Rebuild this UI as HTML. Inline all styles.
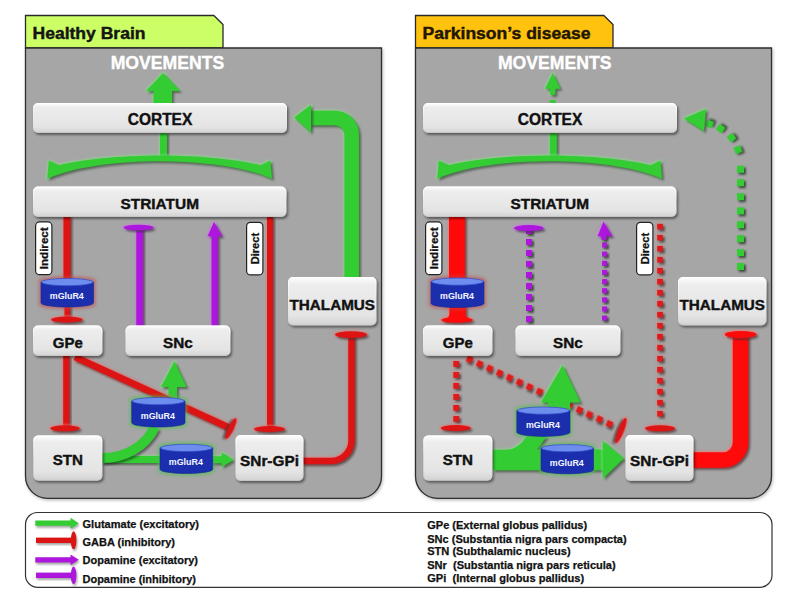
<!DOCTYPE html>
<html><head><meta charset="utf-8"><style>
html,body{margin:0;padding:0;background:#fff;width:799px;height:599px;overflow:hidden}
svg{display:block}
.b{font-family:"Liberation Sans",sans-serif;font-weight:bold;fill:#111}
.s{stroke:#111;stroke-width:0.4}
</style></head><body>
<svg width="799" height="599" viewBox="0 0 799 599">
<defs>
<linearGradient id="bx" x1="0" y1="0" x2="0" y2="1">
<stop offset="0" stop-color="#ffffff"/><stop offset="0.15" stop-color="#ededed"/><stop offset="0.8" stop-color="#e4e4e4"/><stop offset="1" stop-color="#d2d2d2"/></linearGradient>
<linearGradient id="bxs" x1="0" y1="0" x2="0" y2="1">
<stop offset="0" stop-color="#ffffff" stop-opacity="0.9"/><stop offset="0.5" stop-color="#ffffff" stop-opacity="0"/><stop offset="1" stop-color="#bdbdbd" stop-opacity="0.6"/></linearGradient>
<linearGradient id="cyb" x1="0" y1="0" x2="1" y2="0">
<stop offset="0" stop-color="#14299a"/><stop offset="0.5" stop-color="#1c35ad"/><stop offset="1" stop-color="#14299a"/></linearGradient>
<filter color-interpolation-filters="sRGB" id="bsh" x="-30%" y="-30%" width="160%" height="160%"><feDropShadow dx="1.5" dy="2" stdDeviation="1.3" flood-color="#000" flood-opacity="0.45"/></filter>
<filter color-interpolation-filters="sRGB" id="sh" x="-40%" y="-40%" width="180%" height="180%"><feMorphology in="SourceGraphic" operator="dilate" radius="1.2" result="dl"/><feGaussianBlur in="dl" stdDeviation="0.9" result="gl"/><feColorMatrix in="gl" type="matrix" values="0.6 0 0 0 0.4  0 0.6 0 0 0.4  0 0 0.6 0 0.4  0 0 0 0.7 0" result="gl2"/><feOffset in="SourceAlpha" dx="1.5" dy="2" result="o"/><feGaussianBlur in="o" stdDeviation="1.3" result="ob"/><feFlood flood-color="#000" flood-opacity="0.45"/><feComposite in2="ob" operator="in" result="s"/><feMerge><feMergeNode in="gl2"/><feMergeNode in="s"/><feMergeNode in="SourceGraphic"/></feMerge></filter>
<filter color-interpolation-filters="sRGB" id="dshR" x="-80%" y="-80%" width="260%" height="260%"><feMorphology in="SourceAlpha" operator="dilate" radius="0.8" result="d"/><feGaussianBlur in="d" stdDeviation="1" result="b"/><feFlood flood-color="#ff6060" flood-opacity="0.35"/><feComposite in2="b" operator="in" result="g"/><feOffset in="SourceAlpha" dx="1.6" dy="1.8" result="o"/><feGaussianBlur in="o" stdDeviation="0.9" result="ob"/><feFlood flood-color="#000" flood-opacity="0.5"/><feComposite in2="ob" operator="in" result="s"/><feMerge><feMergeNode in="g"/><feMergeNode in="s"/><feMergeNode in="SourceGraphic"/></feMerge></filter>
<filter color-interpolation-filters="sRGB" id="dsh" x="-50%" y="-50%" width="200%" height="200%"><feDropShadow dx="1.8" dy="1.8" stdDeviation="0.8" flood-color="#0a1a0a" flood-opacity="0.72"/></filter>
<filter color-interpolation-filters="sRGB" id="lsh" x="-30%" y="-50%" width="160%" height="200%"><feDropShadow dx="1" dy="2" stdDeviation="1.2" flood-color="#000" flood-opacity="0.35"/></filter>
<filter color-interpolation-filters="sRGB" id="psh" x="-5%" y="-5%" width="110%" height="110%"><feDropShadow dx="1" dy="1.5" stdDeviation="1.5" flood-color="#000" flood-opacity="0.25"/></filter>
<filter color-interpolation-filters="sRGB" id="glR" x="-30%" y="-40%" width="160%" height="180%"><feMorphology in="SourceAlpha" operator="dilate" radius="2" result="d"/><feGaussianBlur in="d" stdDeviation="1.6" result="b"/><feFlood flood-color="#c04848" flood-opacity="0.55"/><feComposite in2="b" operator="in" result="g"/><feMerge><feMergeNode in="g"/><feMergeNode in="SourceGraphic"/></feMerge></filter>
<filter color-interpolation-filters="sRGB" id="glG" x="-30%" y="-40%" width="160%" height="180%"><feMorphology in="SourceAlpha" operator="dilate" radius="2" result="d"/><feGaussianBlur in="d" stdDeviation="1.6" result="b"/><feFlood flood-color="#48c048" flood-opacity="0.55"/><feComposite in2="b" operator="in" result="g"/><feMerge><feMergeNode in="g"/><feMergeNode in="SourceGraphic"/></feMerge></filter>
</defs>
<path d="M25.5,15.5 H213.8 L223,24.6 V48 H25.5 Z" fill="#ccff66" stroke="#2a2a2a" stroke-width="1.3"/><path d="M25.5,48 H381.5 V476.3 A22,22 0 0 1 359.5,498.3 H47.5 A22,22 0 0 1 25.5,476.3 Z" fill="#a6a6a6" stroke="#2e2e2e" stroke-width="1.3" filter="url(#psh)"/><text x="32.5" y="39" font-size="16.8" class="b" style="fill:#151515;stroke:#151515;stroke-width:0.45" textLength="113" lengthAdjust="spacingAndGlyphs">Healthy Brain</text><path d="M415.5,15.5 H603.8 L613,24.6 V48 H415.5 Z" fill="#ffc20e" stroke="#2a2a2a" stroke-width="1.3"/><path d="M415.5,48 H771.5 V476.3 A22,22 0 0 1 749.5,498.3 H437.5 A22,22 0 0 1 415.5,476.3 Z" fill="#a6a6a6" stroke="#2e2e2e" stroke-width="1.3" filter="url(#psh)"/><text x="422.5" y="39" font-size="16.8" class="b" style="fill:#1f1604;stroke:#1f1604;stroke-width:0.45" textLength="168" lengthAdjust="spacingAndGlyphs">Parkinson’s disease</text><text x="167.4" y="68.8" font-size="17.6" text-anchor="middle" class="b" style="fill:#fff;stroke:#fff;stroke-width:0.35" textLength="113.5" lengthAdjust="spacingAndGlyphs">MOVEMENTS</text><text x="554.7" y="68.8" font-size="17.6" text-anchor="middle" class="b" style="fill:#fff;stroke:#fff;stroke-width:0.35" textLength="113.5" lengthAdjust="spacingAndGlyphs">MOVEMENTS</text><g><path d="M163,73 L180,91 H172 V104 H153.5 V91 H146 Z" fill="#33cc33" filter="url(#sh)"/><rect x="160" y="132" width="7" height="26" fill="#33cc33" filter="url(#sh)"/><path d="M58.8,165.3 C80.0,159.5 120.0,155.4 159.6,155.4 C199.2,155.4 239.2,159.5 260.4,165.3 L270.4,160.6 L272.0,178.8 C244.2,166 199.2,161.2 159.6,161.2 C120.0,161.2 75.0,166 47.2,178.8 L48.8,160.6 Z" fill="#33cc33" filter="url(#sh)"/><path d="M351.7,278 V135 A17,17 0 0 0 334.7,118 H309" fill="none" stroke="#33cc33" stroke-width="14.5" filter="url(#sh)"/><path d="M294.3,117.5 L311,104.7 V132.6 Z" fill="#33cc33" filter="url(#sh)"/><rect x="63.5" y="216" width="7" height="64" fill="#dc1414" filter="url(#sh)"/><rect x="64.5" y="305" width="5.5" height="14" fill="#dc1414" filter="url(#sh)"/><ellipse cx="66.8" cy="319.5" rx="15.7" ry="3" fill="#dc1414" filter="url(#sh)"/><rect x="136.3" y="227" width="6.7" height="99" fill="#ad16dc" filter="url(#sh)"/><ellipse cx="138.5" cy="227.5" rx="15" ry="2.8" fill="#ad16dc" filter="url(#sh)"/><path d="M214,222 L222.3,236.3 H217.8 V326 H211.5 V236.3 H207.5 Z" fill="#ad16dc" filter="url(#sh)"/><rect x="267" y="216" width="6" height="213" fill="#dc1414" filter="url(#sh)"/><ellipse cx="269.5" cy="429" rx="15.5" ry="3" fill="#dc1414" filter="url(#sh)"/><path d="M302,461 H331 A20.5,20.5 0 0 0 351.5,440.5 V335" fill="none" stroke="#dc1414" stroke-width="6.5" filter="url(#sh)"/><ellipse cx="351" cy="334.6" rx="16" ry="3.4" fill="#dc1414" filter="url(#sh)"/><rect x="63.2" y="355" width="6.2" height="73" fill="#dc1414" filter="url(#sh)"/><ellipse cx="65" cy="428.3" rx="14.7" ry="3" fill="#dc1414" filter="url(#sh)"/><path d="M174.5,361.3 L186.6,387 H177 V400 H168.5 V387 H161 Z" fill="#33cc33" filter="url(#sh)"/><line x1="75" y1="357" x2="231" y2="428.5" stroke="#dc1414" stroke-width="6.5" filter="url(#sh)"/><ellipse cx="231" cy="428.5" rx="11.5" ry="2.8" transform="rotate(116 231 428.5)" fill="#dc1414" filter="url(#sh)"/><rect x="102" y="456" width="60" height="7" fill="#33cc33" filter="url(#sh)"/><path d="M102,458 C125,458 145,447 155,427" fill="none" stroke="#33cc33" stroke-width="10" filter="url(#bsh)"/><path d="M233.5,460 L221.7,452.5 V456.3 H210 V463.3 H221.7 V467 Z" fill="#33cc33" filter="url(#sh)"/></g><g><path d="M552.7,73.3 L560.4,88.7 H555.4 V94.7 H550 V88.7 H545 Z" fill="#33cc33" filter="url(#sh)"/><rect x="549.8" y="100" width="6" height="4" fill="#33cc33"/><rect x="549.8" y="132" width="7" height="26" fill="#33cc33" filter="url(#sh)"/><path d="M448.8,165.3 C470.0,159.5 510.0,155.4 549.6,155.4 C589.2,155.4 629.2,159.5 650.4,165.3 L660.4,160.6 L662.0,178.8 C634.2,166 589.2,161.2 549.6,161.2 C510.0,161.2 465.0,166 437.2,178.8 L438.8,160.6 Z" fill="#33cc33" filter="url(#sh)"/><rect x="449" y="216" width="16" height="64" fill="#ff0a0a" filter="url(#sh)"/><g filter="url(#sh)"><path d="M449.4,305 V314 Q449.4,318 444,319 H470 Q465.7,318 465.7,314 V305 Z" fill="#ff0a0a"/><ellipse cx="457" cy="320" rx="15.7" ry="2.8" fill="#ff0a0a"/></g><rect x="526" y="228.0" width="6" height="6" fill="#ad16dc" filter="url(#dsh)"/><rect x="526" y="239.0" width="6" height="6" fill="#ad16dc" filter="url(#dsh)"/><rect x="526" y="250.0" width="6" height="6" fill="#ad16dc" filter="url(#dsh)"/><rect x="526" y="261.0" width="6" height="6" fill="#ad16dc" filter="url(#dsh)"/><rect x="526" y="272.0" width="6" height="6" fill="#ad16dc" filter="url(#dsh)"/><rect x="526" y="283.0" width="6" height="6" fill="#ad16dc" filter="url(#dsh)"/><rect x="526" y="294.0" width="6" height="6" fill="#ad16dc" filter="url(#dsh)"/><rect x="526" y="305.0" width="6" height="6" fill="#ad16dc" filter="url(#dsh)"/><rect x="526" y="316.0" width="6" height="6" fill="#ad16dc" filter="url(#dsh)"/><ellipse cx="528.75" cy="228" rx="14.75" ry="3" fill="#ad16dc" filter="url(#sh)"/><rect x="602.1" y="242.5" width="5" height="5" fill="#ad16dc" filter="url(#dsh)"/><rect x="602.1" y="251.6" width="5" height="5" fill="#ad16dc" filter="url(#dsh)"/><rect x="602.1" y="260.8" width="5" height="5" fill="#ad16dc" filter="url(#dsh)"/><rect x="602.1" y="269.9" width="5" height="5" fill="#ad16dc" filter="url(#dsh)"/><rect x="602.1" y="279.1" width="5" height="5" fill="#ad16dc" filter="url(#dsh)"/><rect x="602.1" y="288.2" width="5" height="5" fill="#ad16dc" filter="url(#dsh)"/><rect x="602.1" y="297.3" width="5" height="5" fill="#ad16dc" filter="url(#dsh)"/><rect x="602.1" y="306.5" width="5" height="5" fill="#ad16dc" filter="url(#dsh)"/><rect x="602.1" y="315.6" width="5" height="5" fill="#ad16dc" filter="url(#dsh)"/><path d="M603.5,221.7 L612.2,236.3 H597.6 Z" fill="#ad16dc" filter="url(#sh)"/><rect x="601.5" y="235" width="5" height="5" fill="#ad16dc" filter="url(#dsh)"/><rect x="657.2" y="223.9" width="5.6" height="5.6" fill="#de1a1a" filter="url(#dshR)"/><rect x="657.2" y="234.9" width="5.6" height="5.6" fill="#de1a1a" filter="url(#dshR)"/><rect x="657.2" y="245.9" width="5.6" height="5.6" fill="#de1a1a" filter="url(#dshR)"/><rect x="657.2" y="256.9" width="5.6" height="5.6" fill="#de1a1a" filter="url(#dshR)"/><rect x="657.2" y="267.9" width="5.6" height="5.6" fill="#de1a1a" filter="url(#dshR)"/><rect x="657.2" y="278.9" width="5.6" height="5.6" fill="#de1a1a" filter="url(#dshR)"/><rect x="657.2" y="289.9" width="5.6" height="5.6" fill="#de1a1a" filter="url(#dshR)"/><rect x="657.2" y="300.9" width="5.6" height="5.6" fill="#de1a1a" filter="url(#dshR)"/><rect x="657.2" y="311.9" width="5.6" height="5.6" fill="#de1a1a" filter="url(#dshR)"/><rect x="657.2" y="322.9" width="5.6" height="5.6" fill="#de1a1a" filter="url(#dshR)"/><rect x="657.2" y="333.9" width="5.6" height="5.6" fill="#de1a1a" filter="url(#dshR)"/><rect x="657.2" y="344.9" width="5.6" height="5.6" fill="#de1a1a" filter="url(#dshR)"/><rect x="657.2" y="355.9" width="5.6" height="5.6" fill="#de1a1a" filter="url(#dshR)"/><rect x="657.2" y="366.9" width="5.6" height="5.6" fill="#de1a1a" filter="url(#dshR)"/><rect x="657.2" y="377.9" width="5.6" height="5.6" fill="#de1a1a" filter="url(#dshR)"/><rect x="657.2" y="388.9" width="5.6" height="5.6" fill="#de1a1a" filter="url(#dshR)"/><rect x="657.2" y="399.9" width="5.6" height="5.6" fill="#de1a1a" filter="url(#dshR)"/><rect x="657.2" y="410.9" width="5.6" height="5.6" fill="#de1a1a" filter="url(#dshR)"/><ellipse cx="660" cy="428.3" rx="15" ry="3" fill="#dc1414" filter="url(#sh)"/><rect x="737.0" y="263.0" width="7" height="7" fill="#33cc33" transform="rotate(0 740.5 266.5)" filter="url(#dsh)"/><rect x="737.0" y="249.1" width="7" height="7" fill="#33cc33" transform="rotate(0 740.5 252.6)" filter="url(#dsh)"/><rect x="737.0" y="235.2" width="7" height="7" fill="#33cc33" transform="rotate(0 740.5 238.7)" filter="url(#dsh)"/><rect x="737.0" y="221.2" width="7" height="7" fill="#33cc33" transform="rotate(0 740.5 224.7)" filter="url(#dsh)"/><rect x="737.0" y="207.4" width="7" height="7" fill="#33cc33" transform="rotate(0 740.5 210.9)" filter="url(#dsh)"/><rect x="737.0" y="193.2" width="7" height="7" fill="#33cc33" transform="rotate(0 740.5 196.7)" filter="url(#dsh)"/><rect x="737.0" y="179.2" width="7" height="7" fill="#33cc33" transform="rotate(0 740.5 182.7)" filter="url(#dsh)"/><rect x="737.0" y="165.8" width="7" height="7" fill="#33cc33" transform="rotate(0 740.5 169.3)" filter="url(#dsh)"/><rect x="734.5" y="146.2" width="7" height="7" fill="#33cc33" transform="rotate(-20 738 149.7)" filter="url(#dsh)"/><rect x="728.1" y="134.2" width="7" height="7" fill="#33cc33" transform="rotate(-38 731.6 137.7)" filter="url(#dsh)"/><rect x="717.1" y="125.1" width="7" height="7" fill="#33cc33" transform="rotate(-55 720.6 128.6)" filter="url(#dsh)"/><rect x="706.1" y="120.5" width="7" height="7" fill="#33cc33" transform="rotate(-70 709.6 124)" filter="url(#dsh)"/><path d="M683.9,118.5 L706,109 L704,131 Z" fill="#33cc33" filter="url(#sh)"/><path d="M692,460 H723 A17.5,17.5 0 0 0 740.5,442.5 V335" fill="none" stroke="#ff0a0a" stroke-width="15.5" filter="url(#sh)"/><ellipse cx="740.6" cy="334.5" rx="15.8" ry="3.4" fill="#ff0a0a" filter="url(#sh)"/><rect x="453.3" y="361.0" width="5.8" height="5.8" fill="#de1a1a" filter="url(#dshR)"/><rect x="453.3" y="372.0" width="5.8" height="5.8" fill="#de1a1a" filter="url(#dshR)"/><rect x="453.3" y="383.0" width="5.8" height="5.8" fill="#de1a1a" filter="url(#dshR)"/><rect x="453.3" y="394.0" width="5.8" height="5.8" fill="#de1a1a" filter="url(#dshR)"/><rect x="453.3" y="405.0" width="5.8" height="5.8" fill="#de1a1a" filter="url(#dshR)"/><rect x="453.3" y="416.0" width="5.8" height="5.8" fill="#de1a1a" filter="url(#dshR)"/><ellipse cx="455.75" cy="428" rx="15" ry="3" fill="#dc1414" filter="url(#sh)"/><rect x="466.7" y="356.3" width="6" height="6" fill="#de1a1a" transform="rotate(24.8 469.7 359.3)" filter="url(#dshR)"/><rect x="476.7" y="360.9" width="6" height="6" fill="#de1a1a" transform="rotate(24.8 479.7 363.9)" filter="url(#dshR)"/><rect x="486.7" y="365.5" width="6" height="6" fill="#de1a1a" transform="rotate(24.8 489.7 368.5)" filter="url(#dshR)"/><rect x="496.7" y="370.1" width="6" height="6" fill="#de1a1a" transform="rotate(24.8 499.7 373.1)" filter="url(#dshR)"/><rect x="506.7" y="374.7" width="6" height="6" fill="#de1a1a" transform="rotate(24.8 509.7 377.7)" filter="url(#dshR)"/><rect x="516.6" y="379.3" width="6" height="6" fill="#de1a1a" transform="rotate(24.8 519.6 382.3)" filter="url(#dshR)"/><rect x="526.6" y="383.9" width="6" height="6" fill="#de1a1a" transform="rotate(24.8 529.6 386.9)" filter="url(#dshR)"/><rect x="536.6" y="388.6" width="6" height="6" fill="#de1a1a" transform="rotate(24.8 539.6 391.6)" filter="url(#dshR)"/><rect x="546.6" y="393.2" width="6" height="6" fill="#de1a1a" transform="rotate(24.8 549.6 396.2)" filter="url(#dshR)"/><rect x="556.6" y="397.8" width="6" height="6" fill="#de1a1a" transform="rotate(24.8 559.6 400.8)" filter="url(#dshR)"/><rect x="566.6" y="402.4" width="6" height="6" fill="#de1a1a" transform="rotate(24.8 569.6 405.4)" filter="url(#dshR)"/><rect x="576.6" y="407.0" width="6" height="6" fill="#de1a1a" transform="rotate(24.8 579.6 410.0)" filter="url(#dshR)"/><rect x="586.5" y="411.6" width="6" height="6" fill="#de1a1a" transform="rotate(24.8 589.5 414.6)" filter="url(#dshR)"/><rect x="596.5" y="416.2" width="6" height="6" fill="#de1a1a" transform="rotate(24.8 599.5 419.2)" filter="url(#dshR)"/><rect x="606.5" y="420.9" width="6" height="6" fill="#de1a1a" transform="rotate(24.8 609.5 423.9)" filter="url(#dshR)"/><ellipse cx="621" cy="430.5" rx="13.5" ry="3" transform="rotate(112 621 430.5)" fill="#dc1414" filter="url(#sh)"/><path d="M493,449.7 H507 Q518,449.7 527,436 H547 L537,449.5 H605 V470.3 H493 Z" fill="#33cc33" filter="url(#sh)"/><path d="M562.6,365.2 L580.6,402.6 H540.9 Z" fill="#33cc33" filter="url(#sh)"/><rect x="548" y="400" width="22" height="10" fill="#33cc33"/><path d="M623.8,458.6 L602.8,478.5 V441 Z" fill="#33cc33" filter="url(#sh)"/></g><g filter="url(#glR)"><path d="M41,282.1 V302.8 A26.25,4.2 0 0 0 93.5,302.8 V282.1 Z" fill="#1b2fae" stroke="#142596" stroke-width="0.6"/><ellipse cx="67.25" cy="282.1" rx="25.75" ry="3.6" fill="#6d8def" stroke="#2f4bc4" stroke-width="0.7"/></g><text x="66.75" y="298.7" font-size="8.8" text-anchor="middle" class="b" style="fill:#f4f6ff" textLength="34" lengthAdjust="spacingAndGlyphs">mGluR4</text><g filter="url(#glG)"><path d="M131.7,401.1 V422.8 A26.650000000000006,4.2 0 0 0 185,422.8 V401.1 Z" fill="#1b2fae" stroke="#142596" stroke-width="0.6"/><ellipse cx="158.35" cy="401.1" rx="26.150000000000006" ry="3.6" fill="#6d8def" stroke="#2f4bc4" stroke-width="0.7"/></g><text x="157.85" y="418.7" font-size="8.8" text-anchor="middle" class="b" style="fill:#f4f6ff" textLength="34" lengthAdjust="spacingAndGlyphs">mGluR4</text><g filter="url(#glG)"><path d="M160,447.90000000000003 V469.3 A26.349999999999994,4.2 0 0 0 212.7,469.3 V447.90000000000003 Z" fill="#1b2fae" stroke="#142596" stroke-width="0.6"/><ellipse cx="186.35" cy="447.90000000000003" rx="25.849999999999994" ry="3.6" fill="#6d8def" stroke="#2f4bc4" stroke-width="0.7"/></g><text x="185.85" y="465.2" font-size="8.8" text-anchor="middle" class="b" style="fill:#f4f6ff" textLength="34" lengthAdjust="spacingAndGlyphs">mGluR4</text><g filter="url(#glR)"><path d="M431,281.6 V303.3 A26.5,4.2 0 0 0 484,303.3 V281.6 Z" fill="#1b2fae" stroke="#142596" stroke-width="0.6"/><ellipse cx="457.5" cy="281.6" rx="26.0" ry="3.6" fill="#6d8def" stroke="#2f4bc4" stroke-width="0.7"/></g><text x="457.0" y="299.2" font-size="8.8" text-anchor="middle" class="b" style="fill:#f4f6ff" textLength="34" lengthAdjust="spacingAndGlyphs">mGluR4</text><g filter="url(#glG)"><path d="M516.8,410.6 V432.2 A26.600000000000023,4.2 0 0 0 570,432.2 V410.6 Z" fill="#1b2fae" stroke="#142596" stroke-width="0.6"/><ellipse cx="543.4" cy="410.6" rx="26.100000000000023" ry="3.6" fill="#6d8def" stroke="#2f4bc4" stroke-width="0.7"/></g><text x="542.9" y="428.09999999999997" font-size="8.8" text-anchor="middle" class="b" style="fill:#f4f6ff" textLength="34" lengthAdjust="spacingAndGlyphs">mGluR4</text><g filter="url(#glG)"><path d="M541,448.20000000000005 V469.6 A26.25,4.2 0 0 0 593.5,469.6 V448.20000000000005 Z" fill="#1b2fae" stroke="#142596" stroke-width="0.6"/><ellipse cx="567.25" cy="448.20000000000005" rx="25.75" ry="3.6" fill="#6d8def" stroke="#2f4bc4" stroke-width="0.7"/></g><text x="566.75" y="465.5" font-size="8.8" text-anchor="middle" class="b" style="fill:#f4f6ff" textLength="34" lengthAdjust="spacingAndGlyphs">mGluR4</text><rect x="33" y="103" width="254.00" height="30.00" rx="5" fill="url(#bx)" filter="url(#bsh)"/><rect x="33.5" y="103.5" width="253.00" height="29.00" rx="4.5" fill="none" stroke="url(#bxs)" stroke-width="1"/><text x="160.00" y="125.00" font-size="16" text-anchor="middle" class="b s" textLength="64.5" lengthAdjust="spacingAndGlyphs">CORTEX</text><rect x="33" y="186.5" width="253.50" height="30.50" rx="5" fill="url(#bx)" filter="url(#bsh)"/><rect x="33.5" y="187.0" width="252.50" height="29.50" rx="4.5" fill="none" stroke="url(#bxs)" stroke-width="1"/><text x="159.75" y="208.80" font-size="15.5" text-anchor="middle" class="b s" textLength="78.5" lengthAdjust="spacingAndGlyphs">STRIATUM</text><rect x="33" y="325.5" width="69.50" height="30.50" rx="5" fill="url(#bx)" filter="url(#bsh)"/><rect x="33.5" y="326.0" width="68.50" height="29.50" rx="4.5" fill="none" stroke="url(#bxs)" stroke-width="1"/><text x="67.75" y="347.50" font-size="15.3" text-anchor="middle" class="b s" textLength="30" lengthAdjust="spacingAndGlyphs">GPe</text><rect x="125.5" y="325.5" width="105.00" height="30.50" rx="5" fill="url(#bx)" filter="url(#bsh)"/><rect x="126.0" y="326.0" width="104.00" height="29.50" rx="4.5" fill="none" stroke="url(#bxs)" stroke-width="1"/><text x="178.00" y="347.50" font-size="15.3" text-anchor="middle" class="b s" textLength="29.8" lengthAdjust="spacingAndGlyphs">SNc</text><rect x="288" y="277" width="88.50" height="48.50" rx="5" fill="url(#bx)" filter="url(#bsh)"/><rect x="288.5" y="277.5" width="87.50" height="47.50" rx="4.5" fill="none" stroke="url(#bxs)" stroke-width="1"/><text x="332.25" y="309.80" font-size="15" text-anchor="middle" class="b s" textLength="85.5" lengthAdjust="spacingAndGlyphs">THALAMUS</text><rect x="33.3" y="435.4" width="69.10" height="45.30" rx="5" fill="url(#bx)" filter="url(#bsh)"/><rect x="33.8" y="435.9" width="68.10" height="44.30" rx="4.5" fill="none" stroke="url(#bxs)" stroke-width="1"/><text x="67.85" y="464.60" font-size="15" text-anchor="middle" class="b s" textLength="30.3" lengthAdjust="spacingAndGlyphs">STN</text><rect x="235.5" y="435" width="68.00" height="46.00" rx="5" fill="url(#bx)" filter="url(#bsh)"/><rect x="236.0" y="435.5" width="67.00" height="45.00" rx="4.5" fill="none" stroke="url(#bxs)" stroke-width="1"/><text x="269.50" y="465.70" font-size="15" text-anchor="middle" class="b s" textLength="58.8" lengthAdjust="spacingAndGlyphs">SNr-GPi</text><rect x="35.6" y="221.9" width="16.3" height="52.8" rx="4" fill="#fff" stroke="#222" stroke-width="1.2"/><text x="0" y="0" transform="translate(47.75,248.3) rotate(-90)" font-size="11.5" text-anchor="middle" class="b s" style="stroke-width:0.3" textLength="42" lengthAdjust="spacingAndGlyphs">Indirect</text><rect x="246.6" y="222.29999999999998" width="16.3" height="52.60000000000001" rx="4" fill="#fff" stroke="#222" stroke-width="1.2"/><text x="0" y="0" transform="translate(258.75,248.6) rotate(-90)" font-size="11.5" text-anchor="middle" class="b s" style="stroke-width:0.3" textLength="31.5" lengthAdjust="spacingAndGlyphs">Direct</text><rect x="423" y="103" width="254.00" height="30.00" rx="5" fill="url(#bx)" filter="url(#bsh)"/><rect x="423.5" y="103.5" width="253.00" height="29.00" rx="4.5" fill="none" stroke="url(#bxs)" stroke-width="1"/><text x="550.00" y="125.00" font-size="16" text-anchor="middle" class="b s" textLength="64.5" lengthAdjust="spacingAndGlyphs">CORTEX</text><rect x="423" y="186.5" width="253.50" height="30.50" rx="5" fill="url(#bx)" filter="url(#bsh)"/><rect x="423.5" y="187.0" width="252.50" height="29.50" rx="4.5" fill="none" stroke="url(#bxs)" stroke-width="1"/><text x="549.75" y="208.80" font-size="15.5" text-anchor="middle" class="b s" textLength="78.5" lengthAdjust="spacingAndGlyphs">STRIATUM</text><rect x="423" y="325.5" width="69.50" height="30.50" rx="5" fill="url(#bx)" filter="url(#bsh)"/><rect x="423.5" y="326.0" width="68.50" height="29.50" rx="4.5" fill="none" stroke="url(#bxs)" stroke-width="1"/><text x="457.75" y="347.50" font-size="15.3" text-anchor="middle" class="b s" textLength="30" lengthAdjust="spacingAndGlyphs">GPe</text><rect x="515.5" y="325.5" width="105.00" height="30.50" rx="5" fill="url(#bx)" filter="url(#bsh)"/><rect x="516.0" y="326.0" width="104.00" height="29.50" rx="4.5" fill="none" stroke="url(#bxs)" stroke-width="1"/><text x="568.00" y="347.50" font-size="15.3" text-anchor="middle" class="b s" textLength="29.8" lengthAdjust="spacingAndGlyphs">SNc</text><rect x="678" y="277" width="88.50" height="48.50" rx="5" fill="url(#bx)" filter="url(#bsh)"/><rect x="678.5" y="277.5" width="87.50" height="47.50" rx="4.5" fill="none" stroke="url(#bxs)" stroke-width="1"/><text x="722.25" y="309.80" font-size="15" text-anchor="middle" class="b s" textLength="85.5" lengthAdjust="spacingAndGlyphs">THALAMUS</text><rect x="423.3" y="435.4" width="69.10" height="45.30" rx="5" fill="url(#bx)" filter="url(#bsh)"/><rect x="423.8" y="435.9" width="68.10" height="44.30" rx="4.5" fill="none" stroke="url(#bxs)" stroke-width="1"/><text x="457.85" y="464.60" font-size="15" text-anchor="middle" class="b s" textLength="30.3" lengthAdjust="spacingAndGlyphs">STN</text><rect x="625.5" y="435" width="68.00" height="46.00" rx="5" fill="url(#bx)" filter="url(#bsh)"/><rect x="626.0" y="435.5" width="67.00" height="45.00" rx="4.5" fill="none" stroke="url(#bxs)" stroke-width="1"/><text x="659.50" y="465.70" font-size="15" text-anchor="middle" class="b s" textLength="58.8" lengthAdjust="spacingAndGlyphs">SNr-GPi</text><rect x="425.6" y="221.9" width="16.3" height="52.8" rx="4" fill="#fff" stroke="#222" stroke-width="1.2"/><text x="0" y="0" transform="translate(437.75,248.3) rotate(-90)" font-size="11.5" text-anchor="middle" class="b s" style="stroke-width:0.3" textLength="42" lengthAdjust="spacingAndGlyphs">Indirect</text><rect x="636.6" y="222.29999999999998" width="16.3" height="52.60000000000001" rx="4" fill="#fff" stroke="#222" stroke-width="1.2"/><text x="0" y="0" transform="translate(648.75,248.6) rotate(-90)" font-size="11.5" text-anchor="middle" class="b s" style="stroke-width:0.3" textLength="31.5" lengthAdjust="spacingAndGlyphs">Direct</text><rect x="25.5" y="512.5" width="746.5" height="74.8" rx="12" fill="#fff" stroke="#333" stroke-width="1.2"/><path d="M35.3,520.4 H70.5 V517.8 L78.8,523.2 L70.5,528.7 V525.8 H35.3 Z" fill="#33cc33" filter="url(#lsh)"/><rect x="36" y="537.6" width="37" height="5.4" fill="#dc1414" filter="url(#lsh)"/><ellipse cx="73.6" cy="540.3" rx="2.8" ry="9" fill="#dc1414" filter="url(#lsh)"/><path d="M35.3,557.2 H70.5 V554.5 L78.8,559.8 L70.5,565.2 V562.4 H35.3 Z" fill="#ad16dc" filter="url(#lsh)"/><rect x="36" y="572.6" width="37" height="5.4" fill="#ad16dc" filter="url(#lsh)"/><ellipse cx="73.6" cy="575.3" rx="2.8" ry="8.7" fill="#ad16dc" filter="url(#lsh)"/><text x="82.5" y="527.6" font-size="11" class="b s" style="stroke-width:0.25" textLength="116.5" lengthAdjust="spacingAndGlyphs">Glutamate (excitatory)</text><text x="82.5" y="546" font-size="11" class="b s" style="stroke-width:0.25" textLength="92.5" lengthAdjust="spacingAndGlyphs">GABA (inhibitory)</text><text x="82.5" y="564" font-size="11" class="b s" style="stroke-width:0.25" textLength="115.5" lengthAdjust="spacingAndGlyphs">Dopamine (excitatory)</text><text x="82.5" y="582.5" font-size="11" class="b s" style="stroke-width:0.25" textLength="113.5" lengthAdjust="spacingAndGlyphs">Dopamine (inhibitory)</text><text x="427.2" y="529.3" font-size="11" class="b s" style="stroke-width:0.25" xml:space="preserve" textLength="160" lengthAdjust="spacingAndGlyphs">GPe (External globus pallidus)</text><text x="427.2" y="542.5" font-size="11" class="b s" style="stroke-width:0.25" xml:space="preserve" textLength="199.5" lengthAdjust="spacingAndGlyphs">SNc (Substantia nigra pars compacta)</text><text x="427.2" y="555.4" font-size="11" class="b s" style="stroke-width:0.25" xml:space="preserve" textLength="143.5" lengthAdjust="spacingAndGlyphs">STN (Subthalamic nucleus)</text><text x="427.2" y="568.6" font-size="11" class="b s" style="stroke-width:0.25" xml:space="preserve" textLength="188.5" lengthAdjust="spacingAndGlyphs">SNr  (Substantia nigra pars reticula)</text><text x="427.2" y="582.1" font-size="11" class="b s" style="stroke-width:0.25" xml:space="preserve" textLength="157" lengthAdjust="spacingAndGlyphs">GPi  (Internal globus pallidus)</text>
</svg>
</body></html>
